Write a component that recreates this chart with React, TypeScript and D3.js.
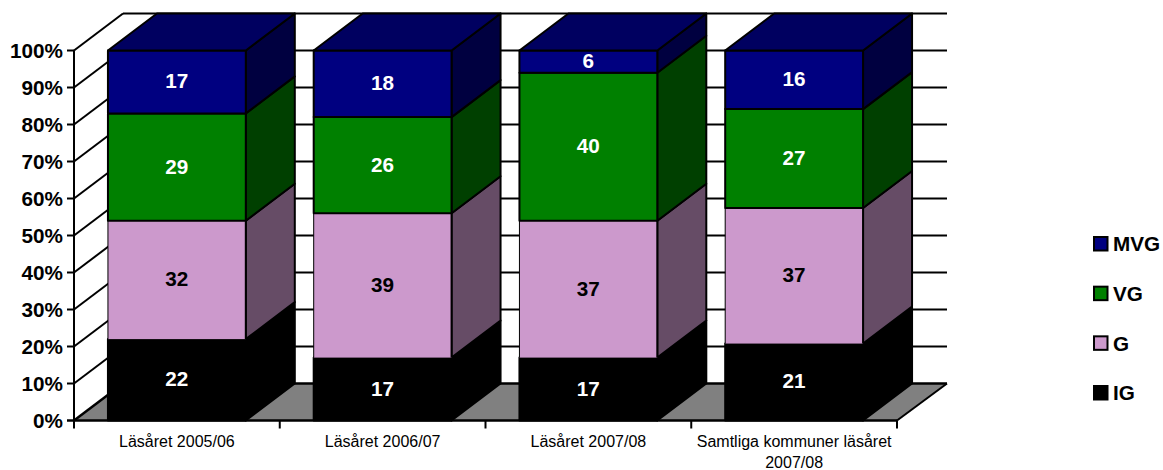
import React from "react";
import * as d3 from "d3";

const categories = ["Läsåret 2005/06", "Läsåret 2006/07", "Läsåret 2007/08", "Samtliga kommuner läsåret|2007/08"];
const seriesNames = ["IG", "G", "VG", "MVG"];
const IG = [22, 17, 17, 21];
const G = [32, 39, 37, 37];
const VG = [29, 26, 40, 27];
const MVG = [17, 18, 6, 16];
const tickValues = [0, 10, 20, 30, 40, 50, 60, 70, 80, 90, 100];
const frontColors = ["#000000", "#CC99CC", "#008000", "#000080"];
const sideColors = ["#000000", "#664C66", "#004000", "#000040"];
const topColors = ["#000000", "#664C66", "#004000", "#000060"];
const labelColors = ["#ffffff", "#000000", "#ffffff", "#ffffff"];

const DX = 49;
const DY = -37;
const FONT = "'Liberation Sans', Arial, sans-serif";

export default function App() {
  const rows = categories.map((c, i) => ({ c, IG: IG[i], G: G[i], VG: VG[i], MVG: MVG[i] }));
  const stacked = d3.stack<any>().keys(seriesNames).offset(d3.stackOffsetExpand)(rows);
  const y = d3.scaleLinear().domain([0, 1]).range([420.5, 50.5]);
  const yPct = d3.scaleLinear().domain([0, 100]).range([420.5, 50.5]);
  const x = d3.scaleBand<string>().domain(categories).range([74, 897]).paddingInner(0.33).paddingOuter(0.165);
  const x0 = 74, x1 = 897;
  const poly = (p: number[][]) => p.map((q) => q.join(",")).join(" ");
  const legendY = d3.scalePoint<string>().domain(["MVG", "VG", "G", "IG"]).range([244, 393]);
  return (
    <svg width={1163} height={470} style={{ position: "absolute", left: 0, top: 0, background: "#fff" }} fontFamily={FONT}>
      <polygon
        points={poly([[x0, y(0)], [x0 + DX, y(0) + DY], [x1 + DX + 1, y(0) + DY], [x1, y(0)]])}
        fill="#808080"
      />
      {tickValues.map((t) => (
        <g key={t} stroke="#000" strokeWidth={t === 0 ? 2.5 : 2}>
          <line x1={x0 - 7} x2={x0} y1={yPct(t)} y2={yPct(t)} />
          <line x1={x0} y1={yPct(t)} x2={x0 + DX} y2={yPct(t) + DY} />
          <line x1={x0 + DX} x2={x1 + DX + 1} y1={yPct(t) + DY} y2={yPct(t) + DY} />
        </g>
      ))}
      <line x1={x0} x2={x0} y1={yPct(0)} y2={yPct(100)} stroke="#000" strokeWidth={2} />
      <line x1={x0} x2={x1} y1={yPct(0)} y2={yPct(0)} stroke="#000" strokeWidth={2.5} />
      <line x1={x1} y1={yPct(0)} x2={x1 + DX + 1} y2={yPct(0) + DY} stroke="#000" strokeWidth={2} />
      {d3.range(5).map((i) => {
        const tx = x0 + (i * (x1 - x0)) / 4;
        return <line key={i} x1={tx} x2={tx} y1={yPct(0)} y2={yPct(0) + 8} stroke="#000" strokeWidth={2} />;
      })}
      {tickValues.map((t) => (
        <text key={t} x={63} y={yPct(t)} dy="0.36em" textAnchor="end" fontSize={20.7} fontWeight="bold" fill="#000">
          {t}%
        </text>
      ))}
      {categories.map((c) => {
        const i = categories.indexOf(c);
        const l = x(c)!;
        const w = x.bandwidth();
        return (
          <g key={c}>
            {stacked.map((s, si) => {
              const d = s[i];
              const yb = y(d[0]);
              const yt = y(d[1]);
              const isG = seriesNames[si] === "G";
              return (
                <g key={s.key} stroke="#000" strokeWidth={2} strokeLinejoin="round">
                  <polygon points={poly([[l + w, yb], [l + w + DX, yb + DY], [l + w + DX, yt + DY], [l + w, yt]])} fill={sideColors[si]} />
                  {isG ? (
                    <g>
                      <rect x={l} y={yt} width={w} height={yb - yt} fill={frontColors[si]} stroke="none" />
                      <line x1={l} x2={l} y1={yt} y2={yb} strokeWidth={1} />
                      <line x1={l + w} x2={l + w} y1={yt} y2={yb} />
                    </g>
                  ) : (
                    <rect x={l} y={yt} width={w} height={yb - yt} fill={frontColors[si]} />
                  )}
                  {si === 3 && (
                    <polygon points={poly([[l, yt], [l + DX, yt + DY], [l + w + DX, yt + DY], [l + w, yt]])} fill={topColors[si]} />
                  )}
                </g>
              );
            })}
            {stacked.map((s, si) => {
              const d = s[i];
              const value = (rows[i] as any)[s.key];
              return (
                <text key={s.key} x={l + w / 2} y={(y(d[0]) + y(d[1])) / 2 - 1} dy="0.36em" textAnchor="middle" fontSize={20.7} fontWeight="bold" fill={labelColors[si]}>
                  {value}
                </text>
              );
            })}
            {c.split("|").map((line, li) => (
              <text key={line} x={l + w / 2} y={446.5 + li * 21} textAnchor="middle" fontSize={16} fill="#000">
                {line}
              </text>
            ))}
          </g>
        );
      })}
      {["MVG", "VG", "G", "IG"].map((n) => (
        <g key={n}>
          <rect x={1094} y={legendY(n)! - 7} width={13.5} height={13.5} fill={frontColors[seriesNames.indexOf(n)]} stroke="#000" strokeWidth={2} />
          <text x={1113} y={legendY(n)} dy="0.36em" fontSize={20.7} fontWeight="bold" fill="#000">
            {n}
          </text>
        </g>
      ))}
    </svg>
  );
}
